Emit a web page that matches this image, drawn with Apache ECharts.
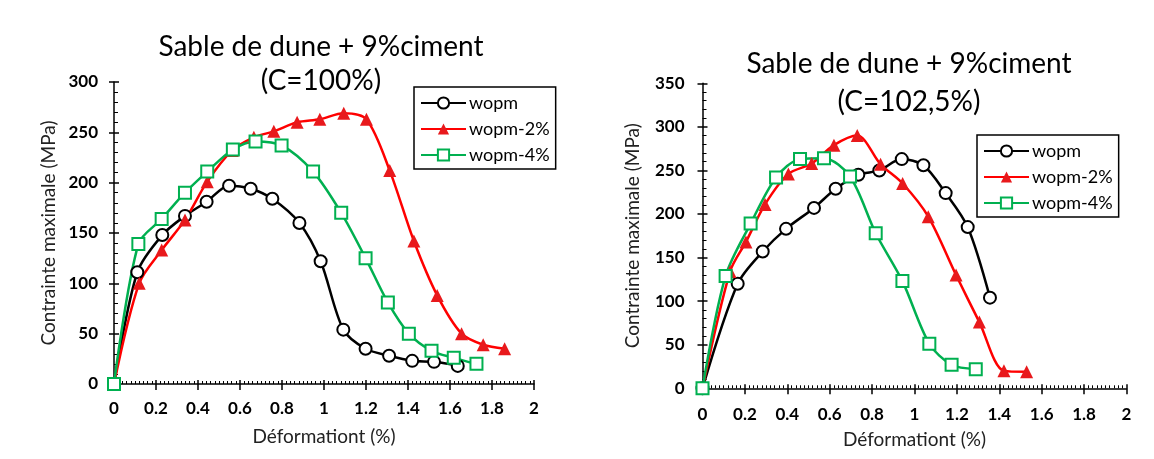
<!DOCTYPE html>
<html>
<head>
<meta charset="utf-8">
<style>
  html, body { margin: 0; padding: 0; background: #fff; }
  #chart { width: 1154px; height: 459px; }
</style>
<script src="https://cdn.jsdelivr.net/npm/echarts@6/dist/echarts.min.js"></script>
</head>
<body>
<div id="chart"></div>
<script>
// Series names
const seriesNames = ['wopm', 'wopm-2%', 'wopm-4%'];

// Left panel: C = 100%  — [deformation %, stress MPa]
const leftWopm = [[0,0],[0.111,111],[0.23,148],[0.338,167],[0.441,181],[0.548,197],[0.651,194],[0.754,184],[0.883,160],[0.984,122],[1.092,54],[1.198,35],[1.31,28],[1.42,23],[1.524,22],[1.637,18]];
const leftWopm2 = [[0,0],[0.12,100],[0.227,133],[0.338,163],[0.444,201],[0.563,232],[0.666,245],[0.761,251],[0.872,260],[0.98,263],[1.094,269],[1.202,263],[1.313,212],[1.428,142],[1.539,88],[1.655,50],[1.758,39],[1.86,35]];
const leftWopm4 = [[0,0],[0.116,139],[0.227,164],[0.338,190],[0.444,211],[0.566,233],[0.674,241],[0.798,237],[0.948,211],[1.082,170],[1.198,125],[1.304,81],[1.404,50],[1.512,33],[1.618,26],[1.726,20]];

// Right panel: C = 102,5%
const rightWopm = [[0,0],[0.166,120],[0.284,157],[0.394,183],[0.526,207],[0.628,229],[0.735,245],[0.834,250],[0.94,263],[1.042,256],[1.147,224],[1.251,185],[1.356,104]];
const rightWopm2 = [[0,0],[0.13,134],[0.205,168],[0.295,211],[0.405,246],[0.515,258],[0.62,279],[0.73,290],[0.84,257],[0.944,235],[1.065,197],[1.196,130],[1.306,76],[1.422,20],[1.529,19]];
const rightWopm4 = [[0,0],[0.109,129],[0.227,189],[0.347,242],[0.46,263],[0.573,264],[0.696,243],[0.817,178],[0.943,123],[1.07,51],[1.175,27],[1.289,22]];

// Axis ranges
const xMax = 2, xStep = 0.2;
const leftYMax = 300, rightYMax = 350, yStep = 50;

const titles = [
  'Sable de dune + 9%ciment\n(C=100%)',
  'Sable de dune + 9%ciment\n(C=102,5%)'
];
const xName = 'Déformationt (%)';
const yName = 'Contrainte maximale (MPa)';

const FONT = 'Lato, "Open Sans", sans-serif';
const BLACK = '#000000', RED = '#ff0000', RED_FILL = '#e8191c', GREEN = '#00b050';

function fmtX(v) { return String(+v.toFixed(1)); }

function xAxes(gridIndex, labelMargin, nameGap) {
  return [
    {
      type: 'value', gridIndex, min: 0, max: xMax, interval: xStep, position: 'bottom',
      name: xName, nameLocation: 'middle', nameGap,
      nameTextStyle: { fontFamily: FONT, fontSize: 19, color: '#222' },
      axisLine: { show: true, lineStyle: { color: BLACK, width: 1.5 } },
      axisTick: { show: true, inside: false, length: 6, lineStyle: { color: BLACK, width: 1.5 } },
      axisLabel: { margin: labelMargin, fontFamily: FONT, fontSize: 17, fontWeight: 'bold', color: BLACK, formatter: fmtX },
      splitLine: { show: false }
    },
    {
      type: 'value', gridIndex, min: 0, max: xMax, interval: xStep, position: 'bottom',
      axisLine: { show: false },
      axisTick: { show: true, inside: true, length: 4, lineStyle: { color: BLACK, width: 1.5 } },
      minorTick: { show: true, splitNumber: 10, length: 3, lineStyle: { color: BLACK, width: 1 } },
      axisLabel: { show: false },
      splitLine: { show: false }
    }
  ];
}

function yAxes(gridIndex, yMax, labelMargin, nameGap) {
  return [
    {
      type: 'value', gridIndex, min: 0, max: yMax, interval: yStep, position: 'left',
      name: yName, nameLocation: 'middle', nameGap, nameRotate: 90,
      nameTextStyle: { fontFamily: FONT, fontSize: 19, color: '#222' },
      axisLine: { show: true, lineStyle: { color: BLACK, width: 1.5 } },
      axisTick: { show: true, inside: false, length: 5, lineStyle: { color: BLACK, width: 1.5 } },
      axisLabel: { margin: labelMargin, fontFamily: FONT, fontSize: 17, fontWeight: 'bold', color: BLACK },
      splitLine: { show: false }
    },
    {
      type: 'value', gridIndex, min: 0, max: yMax, interval: yStep, position: 'left',
      axisLine: { show: false },
      axisTick: { show: true, inside: true, length: 5, lineStyle: { color: BLACK, width: 1.5 } },
      minorTick: { show: true, splitNumber: 5, length: 4, lineStyle: { color: BLACK, width: 1 } },
      axisLabel: { show: false },
      splitLine: { show: false }
    }
  ];
}

function lineSeries(name, data, xi, yi) {
  const base = {
    name, type: 'line', data, xAxisIndex: xi, yAxisIndex: yi,
    smooth: 0.3, clip: false, z: 3,
    lineStyle: { width: 2.5 }
  };
  if (name === 'wopm') {
    return Object.assign(base, {
      symbol: 'emptyCircle', symbolSize: 12,
      itemStyle: { color: BLACK, borderWidth: 2 },
      lineStyle: { width: 2.5, color: BLACK }
    });
  }
  if (name === 'wopm-2%') {
    return Object.assign(base, {
      symbol: 'triangle', symbolSize: 13,
      itemStyle: { color: RED_FILL, borderWidth: 0 },
      lineStyle: { width: 2.5, color: RED }
    });
  }
  return Object.assign(base, {
    symbol: 'emptyRect', symbolSize: 12,
    itemStyle: { color: GREEN, borderWidth: 2 },
    lineStyle: { width: 2.5, color: GREEN }
  });
}

function legend(left, top) {
  return {
    orient: 'vertical', left, top,
    data: seriesNames.slice(),
    itemWidth: 45, itemHeight: 14, itemGap: 6,
    padding: [6, 6, 4, 6],
    borderColor: BLACK, borderWidth: 1.5,
    backgroundColor: '#fff',
    textStyle: { fontFamily: FONT, fontSize: 18, color: BLACK, lineHeight: 20, padding: [0, 0, 0, -2] },
    selectedMode: false
  };
}

const chart = echarts.init(document.getElementById('chart'), null, { renderer: 'canvas' });

const option = {
  backgroundColor: '#ffffff',
  animation: false,
  title: [
    { text: titles[0], left: 316, top: 25, textAlign: 'center',
      textStyle: { fontFamily: FONT, fontSize: 28, fontWeight: 'normal', color: BLACK, lineHeight: 34 } },
    { text: titles[1], left: 904, top: 40, textAlign: 'center',
      textStyle: { fontFamily: FONT, fontSize: 28, fontWeight: 'normal', color: BLACK, lineHeight: 38 } }
  ],
  legend: [ legend(414, 87), legend(977, 135) ],
  grid: [
    { left: 114, top: 82, width: 420, height: 302 },
    { left: 702.5, top: 83.3, width: 424, height: 305 }
  ],
  xAxis: [].concat(xAxes(0, 16, 43), xAxes(1, 18, 42)),
  yAxis: [].concat(yAxes(0, leftYMax, 16, 56), yAxes(1, rightYMax, 18, 60)),
  series: [
    lineSeries(seriesNames[0], leftWopm, 0, 0),
    lineSeries(seriesNames[1], leftWopm2, 0, 0),
    lineSeries(seriesNames[2], leftWopm4, 0, 0),
    lineSeries(seriesNames[0], rightWopm, 2, 2),
    lineSeries(seriesNames[1], rightWopm2, 2, 2),
    lineSeries(seriesNames[2], rightWopm4, 2, 2)
  ]
};

chart.setOption(option);
</script>
</body>
</html>
